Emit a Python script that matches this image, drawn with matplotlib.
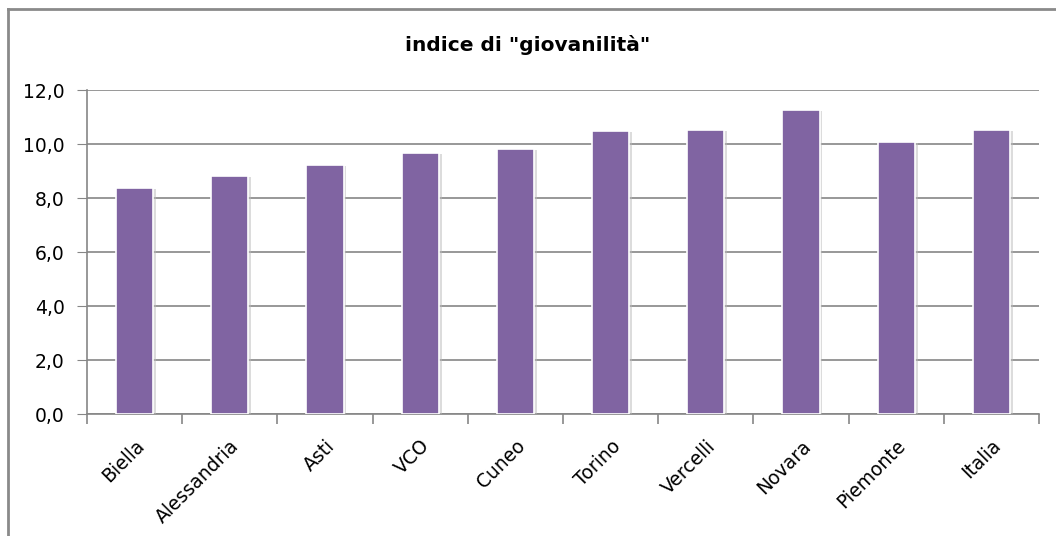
import matplotlib
matplotlib.use("Agg")
from matplotlib import pyplot as plt
from matplotlib import patheffects as pe
from matplotlib.lines import Line2D
from matplotlib.ticker import FuncFormatter, FixedLocator
import numpy as np

categories = ["Biella", "Alessandria", "Asti", "VCO", "Cuneo",
              "Torino", "Vercelli", "Novara", "Piemonte", "Italia"]
values = [8.37, 8.82, 9.23, 9.68, 9.82, 10.48, 10.53, 11.26, 10.08, 10.53]
y_ticks = [0, 2, 4, 6, 8, 10, 12]

plt.rcParams['font.family'] = ['DejaVu Sans']

fig = plt.figure(figsize=(10.56, 5.36), dpi=100)
ax = fig.add_axes([87 / 1056, 1 - 414 / 536, (1039 - 87) / 1056, (414 - 90) / 536])

x = np.arange(len(categories))
bars = ax.bar(x, values, width=0.39, color="#8064A2", edgecolor="white", linewidth=1.2, zorder=3)
for b in bars:
    b.set_path_effects([pe.SimplePatchShadow(offset=(2, -1), shadow_rgbFace="#bbbbbb", alpha=0.5), pe.Normal()])

ax.set_xlim(-0.5, len(categories) - 0.5)
ax.set_ylim(0, 12)
ax.yaxis.set_major_locator(FixedLocator(y_ticks))
ax.yaxis.set_major_formatter(FuncFormatter(lambda v, p: f"{v:.1f}".replace(".", ",")))
ax.grid(axis="y", color="#868686", linewidth=1.2, zorder=0)

for s in ["top", "right"]:
    ax.spines[s].set_visible(False)
ax.spines["left"].set_color("#868686")
ax.spines["bottom"].set_color("#868686")
ax.spines["left"].set_linewidth(1.2)
ax.spines["bottom"].set_linewidth(1.2)

ax.tick_params(axis="y", length=7, color="#868686", labelsize=13.5, pad=9)
ax.set_xticks(x)
ax.set_xticklabels(categories, rotation=45, ha="right", rotation_mode="anchor", fontsize=13.5)
ax.tick_params(axis="x", length=0, pad=16)
ax.set_xticks(np.arange(len(categories) + 1) - 0.5, minor=True)
ax.tick_params(axis="x", which="minor", length=7, color="#868686", width=1.2)

fig.text(0.5, 1 - 45 / 536, 'indice di "giovanilità"', ha="center", va="center",
         fontsize=14.5, fontweight="bold")

# outer chart frame (left and top edges visible)
fig.add_artist(Line2D([7.5 / 1056, 7.5 / 1056], [0, 1 - 9 / 536], color="#8a8a8a", linewidth=2,
                      transform=fig.transFigure))
fig.add_artist(Line2D([7.5 / 1056, 1], [1 - 9 / 536, 1 - 9 / 536], color="#8a8a8a", linewidth=2,
                      transform=fig.transFigure))

fig.savefig("out.png", dpi=100)
